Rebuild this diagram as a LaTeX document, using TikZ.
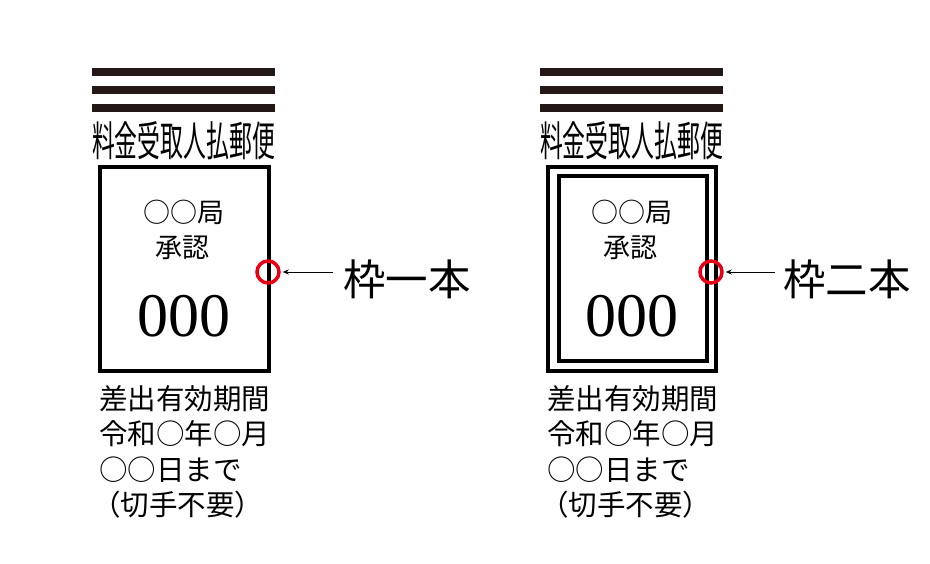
\documentclass[tikz,border=0pt]{standalone}
\usepackage{fontspec}
\setmainfont{Liberation Serif}
\newfontfamily\jp{Noto Sans CJK JP}
\usetikzlibrary{arrows.meta}
\definecolor{barc}{HTML}{231815}
\definecolor{markc}{HTML}{E60012}
\begin{document}
\begin{tikzpicture}[x=1pt,y=-1pt,
  barfill/.style={fill=barc},
  frame/.style={draw=black,line width=4pt},
  ring/.style={circle,draw=markc,line width=3.5pt,minimum size=22pt,inner sep=0pt},
  arr/.style={-{Stealth[length=6pt,width=5pt]},line width=0.8pt,shorten >=2pt},
  head/.style={inner sep=0pt,anchor=base,font=\jp\fontsize{35}{35}\selectfont},
  inner/.style={inner sep=0pt,anchor=base,font=\jp\fontsize{27}{27}\selectfont},
  num/.style={inner sep=0pt,anchor=base,font=\fontsize{62}{62}\selectfont},
  note/.style={inner sep=0pt,anchor=base west,font=\jp\fontsize{28.5}{28.5}\selectfont},
  lbl/.style={inner sep=0pt,anchor=base west,font=\jp\fontsize{42.5}{42.5}\selectfont}]
\useasboundingbox (0,0) rectangle (930,564);
% ---------- left ----------
\fill[barfill] (92,68) rectangle (275,76);
\fill[barfill] (92,86) rectangle (275,94);
\fill[barfill] (92,104) rectangle (275,112);
\node[head] (h1) at (183.5,157) {\resizebox{183pt}{35pt}{料金受取人払郵便}};
\draw[frame] (100,167) rectangle (269,371);
\node[inner] (k1) at (184,223) {○○局};
\node[inner] (s1) at (182,258) {承認};
\node[num] (n1) at (184,337) {000};
\node[note] (d1a) at (99,409) {差出有効期間};
\node[note] (d1b) at (99,444.5) {令和○年○月};
\node[note] (d1c) at (99,480) {○○日まで};
\node[note] (d1d) at (92,515) {（切手不要）};
\node[ring] (c1) at (268,272) {};
\node[lbl] (l1) at (343,296) {枠一本};
\coordinate (a1) at (333,272);
\draw[arr] (a1) -- (c1);
% ---------- right ----------
\fill[barfill] (540,68) rectangle (723,76);
\fill[barfill] (540,86) rectangle (723,94);
\fill[barfill] (540,104) rectangle (723,112);
\node[head] (h2) at (631.5,157) {\resizebox{183pt}{35pt}{料金受取人払郵便}};
\draw[frame] (548,167) rectangle (716,371);
\draw[frame] (559,176) rectangle (707,361);
\node[inner] (k2) at (632,223) {○○局};
\node[inner] (s2) at (630,258) {承認};
\node[num] (n2) at (632,337) {000};
\node[note] (d2a) at (547,409) {差出有効期間};
\node[note] (d2b) at (547,444.5) {令和○年○月};
\node[note] (d2c) at (547,480) {○○日まで};
\node[note] (d2d) at (540,515) {（切手不要）};
\node[ring] (c2) at (711,272) {};
\node[lbl] (l2) at (783,296) {枠二本};
\coordinate (a2) at (775,272);
\draw[arr] (a2) -- (c2);
\end{tikzpicture}
\end{document}
